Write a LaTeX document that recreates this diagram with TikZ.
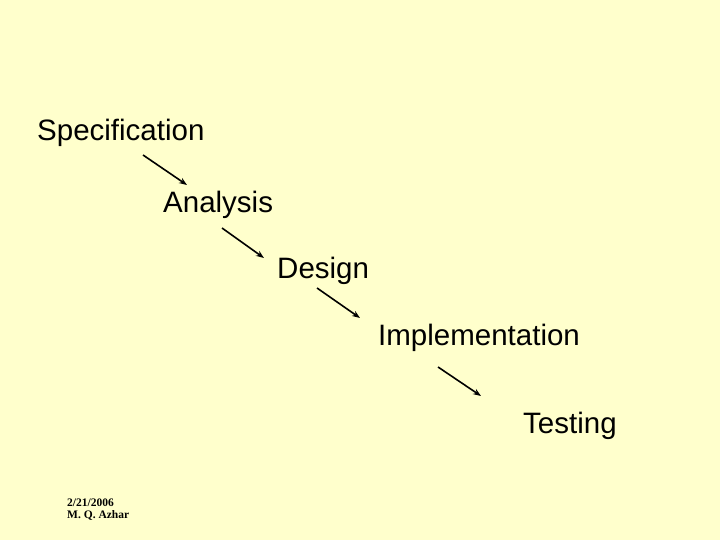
\documentclass[tikz,border=0pt]{standalone}
\usepackage{fontspec}
\setmainfont{Liberation Sans}
\newfontfamily\footfont{Liberation Serif}
\definecolor{bgyellow}{HTML}{FFFFCC}
\usetikzlibrary{arrows.meta}
\tikzset{
  stage/.style={anchor=base west, inner sep=0pt, font=\fontsize{29.5}{34}\selectfont},
  flow/.style={-{Stealth[length=8pt,width=6pt]}, line width=1.6pt, black},
  foot/.style={anchor=base west, inner sep=0pt, font=\footfont\bfseries\fontsize{11.5}{11.5}\selectfont}
}
\begin{document}
\begin{tikzpicture}[x=1pt,y=-1pt]
\fill[bgyellow] (0,0) rectangle (720,540);
\useasboundingbox (0,0) rectangle (720,540);
\node[stage] (spec) at (37,141) {Specification};
\node[stage] (ana) at (163,213) {Analysis};
\node[stage] (des) at (277,278) {Design};
\node[stage] (impl) at (378,345) {Implementation};
\node[stage] (test) at (523,433) {Testing};
\coordinate (a1s) at (143,155); \coordinate (a1e) at (187,185);
\coordinate (a2s) at (222,228); \coordinate (a2e) at (264,258);
\coordinate (a3s) at (317,288); \coordinate (a3e) at (360,318);
\coordinate (a4s) at (438,367); \coordinate (a4e) at (481,396);
\draw[flow] (a1s) -- (a1e);
\draw[flow] (a2s) -- (a2e);
\draw[flow] (a3s) -- (a3e);
\draw[flow] (a4s) -- (a4e);
\node[foot] (date) at (67,506.5) {2/21/2006};
\node[foot] (auth) at (67,518) {M. Q. Azhar};
\end{tikzpicture}
\end{document}
